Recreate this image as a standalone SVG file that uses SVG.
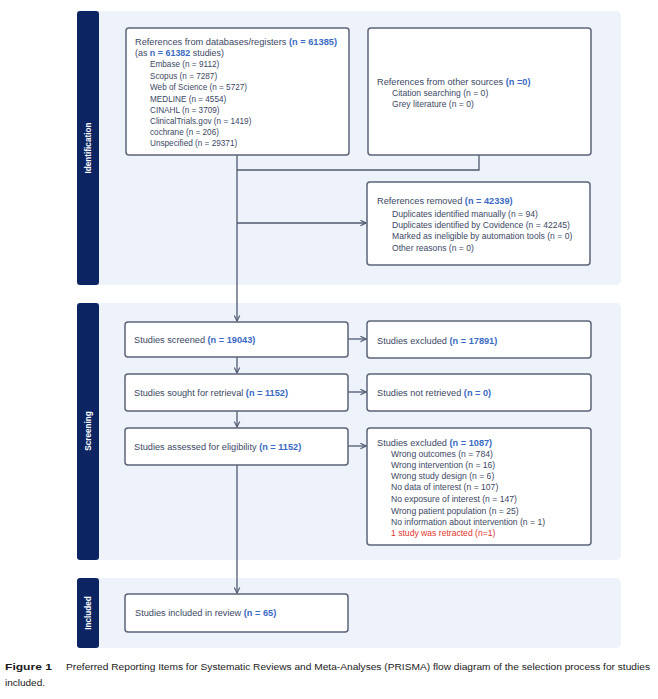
<svg xmlns="http://www.w3.org/2000/svg" width="658" height="699" viewBox="0 0 658 699">
<style>
.panel{fill:#eef2fa}
.bar{fill:#0c2462}
.box{fill:#ffffff;stroke:#5b6478;stroke-width:1.5}
.t{font-family:"Liberation Sans",Arial,sans-serif;font-size:9.2px;fill:#3b4763}
.s{font-family:"Liberation Sans",Arial,sans-serif;font-size:8.6px;fill:#3b4763}
.ta{font-family:"Liberation Sans",Arial,sans-serif;font-size:8.6px;fill:#3b4763}
.sa{font-family:"Liberation Sans",Arial,sans-serif;font-size:8.2px;fill:#3b4763}
.b{font-weight:bold;fill:#3a6bc4}
.red{fill:#e0352b}
.lab{font-family:"Liberation Sans",Arial,sans-serif;font-size:8.2px;font-weight:bold;fill:#ffffff}
.c{fill:none;stroke:#4f5a70;stroke-width:1.3}
.cap{font-family:"Liberation Sans",Arial,sans-serif;font-size:9.6px;fill:#1a1a1a}
</style>
<defs>
<marker id="arr" viewBox="0 0 10 10" refX="9" refY="5" markerWidth="7" markerHeight="7" markerUnits="userSpaceOnUse" orient="auto">
<path d="M1,1 L9,5 L1,9" fill="none" stroke="#4f5a70" stroke-width="1.6"/>
</marker>
</defs>

<g id="panels">
<rect class="panel" x="77" y="11" width="544" height="274" rx="5"/>
<rect class="panel" x="77" y="303" width="544" height="257" rx="5"/>
<rect class="panel" x="77" y="578" width="544" height="70" rx="5"/>
<rect class="bar" x="77" y="11" width="22" height="274" rx="3"/>
<rect class="bar" x="77" y="303" width="22" height="257" rx="3"/>
<rect class="bar" x="77" y="578" width="22" height="70" rx="3"/>
<text class="lab" transform="translate(91,148) rotate(-90)" text-anchor="middle">Identification</text>
<text class="lab" transform="translate(91,431) rotate(-90)" text-anchor="middle">Screening</text>
<text class="lab" transform="translate(91,613) rotate(-90)" text-anchor="middle">Included</text>
</g>

<g id="connectors">
<path class="c" d="M237,155 V170"/>
<path class="c" d="M479,155 V170 H237"/>
<path class="c" d="M237,170 V321" marker-end="url(#arr)"/>
<path class="c" d="M237,223 H366" marker-end="url(#arr)"/>
<path class="c" d="M237,357 V373" marker-end="url(#arr)"/>
<path class="c" d="M237,411 V427" marker-end="url(#arr)"/>
<path class="c" d="M237,465 V593" marker-end="url(#arr)"/>
<path class="c" d="M348,339 H366" marker-end="url(#arr)"/>
<path class="c" d="M348,392 H366" marker-end="url(#arr)"/>
<path class="c" d="M348,446 H366" marker-end="url(#arr)"/>
</g>

<g id="db">
<rect class="box" x="126" y="28" width="223" height="127" rx="3"/>
<text class="ta" x="135" y="45" textLength="202" lengthAdjust="spacingAndGlyphs">References from databases/registers <tspan class="b">(n = 61385)</tspan></text>
<text class="ta" x="135" y="56" textLength="89" lengthAdjust="spacingAndGlyphs">(as <tspan class="b">n = 61382</tspan> studies)</text>
<text class="sa" x="150" y="67">Embase (n = 9112)</text>
<text class="sa" x="150" y="78.5">Scopus (n = 7287)</text>
<text class="sa" x="150" y="90">Web of Science (n = 5727)</text>
<text class="sa" x="150" y="101.5">MEDLINE (n = 4554)</text>
<text class="sa" x="150" y="113">CINAHL (n = 3709)</text>
<text class="sa" x="150" y="124">ClinicalTrials.gov (n = 1419)</text>
<text class="sa" x="150" y="135">cochrane (n = 206)</text>
<text class="sa" x="150" y="146">Unspecified (n = 29371)</text>
</g>

<g id="other">
<rect class="box" x="368" y="28" width="223" height="127" rx="3"/>
<text class="t" x="377" y="85">References from other sources <tspan class="b">(n =0)</tspan></text>
<text class="s" x="392" y="96">Citation searching (n = 0)</text>
<text class="s" x="392" y="107">Grey literature (n = 0)</text>
</g>

<g id="removed">
<rect class="box" x="367" y="182" width="223" height="83" rx="3"/>
<text class="t" x="377" y="204">References removed <tspan class="b">(n = 42339)</tspan></text>
<text class="s" x="392" y="217">Duplicates identified manually (n = 94)</text>
<text class="s" x="392" y="228">Duplicates identified by Covidence (n = 42245)</text>
<text class="s" x="392" y="239">Marked as ineligible by automation tools (n = 0)</text>
<text class="s" x="392" y="251">Other reasons (n = 0)</text>
</g>

<g id="screened">
<rect class="box" x="125" y="322" width="223" height="35" rx="3"/>
<text class="t" x="134" y="343">Studies screened <tspan class="b">(n = 19043)</tspan></text>
</g>

<g id="sought">
<rect class="box" x="125" y="374" width="223" height="37" rx="3"/>
<text class="t" x="134" y="396">Studies sought for retrieval <tspan class="b">(n = 1152)</tspan></text>
</g>

<g id="assessed">
<rect class="box" x="125" y="428" width="223" height="37" rx="3"/>
<text class="t" x="134" y="450">Studies assessed for eligibility <tspan class="b">(n = 1152)</tspan></text>
</g>

<g id="excluded1">
<rect class="box" x="367" y="321" width="224" height="37" rx="3"/>
<text class="t" x="377" y="344">Studies excluded <tspan class="b">(n = 17891)</tspan></text>
</g>

<g id="notretrieved">
<rect class="box" x="367" y="374" width="224" height="37" rx="3"/>
<text class="t" x="377" y="396">Studies not retrieved <tspan class="b">(n = 0)</tspan></text>
</g>

<g id="excluded2">
<rect class="box" x="367" y="428" width="224" height="117" rx="3"/>
<text class="t" x="377" y="446">Studies excluded <tspan class="b">(n = 1087)</tspan></text>
<text class="s" x="391" y="457">Wrong outcomes (n = 784)</text>
<text class="s" x="391" y="468">Wrong intervention (n = 16)</text>
<text class="s" x="391" y="479">Wrong study design (n = 6)</text>
<text class="s" x="391" y="490">No data of interest (n = 107)</text>
<text class="s" x="391" y="502">No exposure of interest (n = 147)</text>
<text class="s" x="391" y="514">Wrong patient population (n = 25)</text>
<text class="s" x="391" y="525">No information about intervention (n = 1)</text>
<text class="s red" x="391" y="536">1 study was retracted (n=1)</text>
</g>

<g id="included">
<rect class="box" x="125" y="594" width="223" height="38" rx="3"/>
<text class="t" x="135" y="616">Studies included in review <tspan class="b">(n = 65)</tspan></text>
</g>

<g id="caption">
<text class="cap" x="5" y="670" font-weight="bold" textLength="47" lengthAdjust="spacingAndGlyphs">Figure 1</text>
<text class="cap" x="66" y="670" textLength="584" lengthAdjust="spacingAndGlyphs">Preferred Reporting Items for Systematic Reviews and Meta-Analyses (PRISMA) flow diagram of the selection process for studies</text>
<text class="cap" x="5" y="686" textLength="40" lengthAdjust="spacingAndGlyphs">included.</text>
</g>
</svg>
